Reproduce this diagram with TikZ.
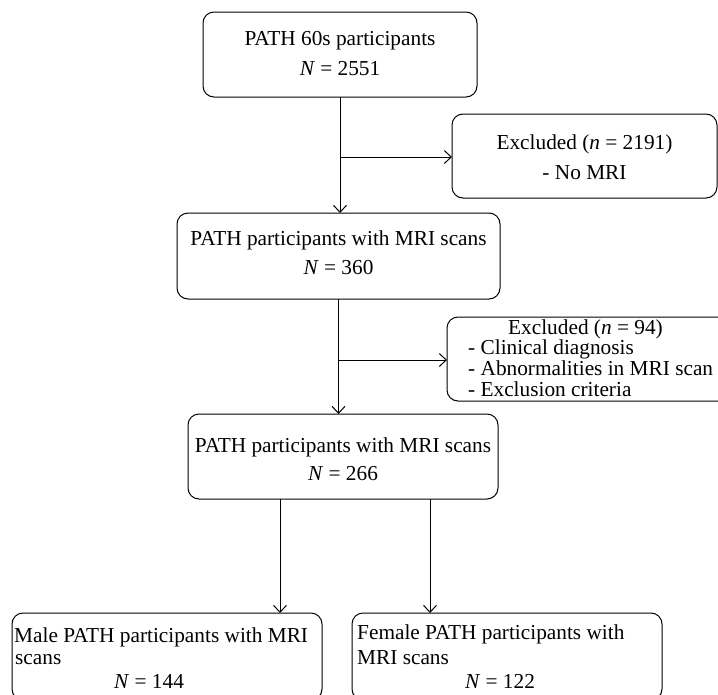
\documentclass[tikz,border=0pt]{standalone}
\usepackage{fontspec}
\setmainfont{Liberation Serif}
\usetikzlibrary{arrows.meta}
\begin{document}
\begin{tikzpicture}[x=1pt,y=-1pt,
  box/.style={draw, line width=1pt, rounded corners=11pt, inner sep=0pt, outer sep=0pt},
  txt/.style={inner sep=0pt, anchor=base, font=\fontsize{21.3}{21}\selectfont},
  txtl/.style={txt, anchor=base west},
  conn/.style={line width=1pt, -{Straight Barb[length=7pt,width=13pt,line width=1pt]}}]
\useasboundingbox (0,0) rectangle (718,694);
\clip (0,0) rectangle (718,694);
% boxes
\node[box, minimum width=274pt, minimum height=85pt] (b1) at (340,54.5) {};
\node[box, minimum width=265pt, minimum height=84pt] (ex1) at (584.5,156) {};
\node[box, minimum width=323pt, minimum height=86pt] (b2) at (338.5,256) {};
\node[box, minimum width=313pt, minimum height=84pt] (ex2) at (603.5,359) {};
\node[box, minimum width=310pt, minimum height=85pt] (b3) at (343,456.5) {};
\node[box, minimum width=310pt, minimum height=87pt] (m) at (167,656.5) {};
\node[box, minimum width=310pt, minimum height=87pt] (f) at (507,656.5) {};
% texts
\node[txt] (t1a) at (340,45) {PATH 60s participants};
\node[txt] (t1b) at (340,75) {\textit{N} = 2551};
\node[txt] (e1a) at (584.5,149) {Excluded (\textit{n} = 2191)};
\node[txt] (e1b) at (584.5,179) {- No MRI};
\node[txt] (t2a) at (338.5,245) {PATH participants with MRI scans};
\node[txt] (t2b) at (338.5,274) {\textit{N} = 360};
\node[txtl] (e2a) at (508,334) {Excluded (\textit{n} = 94)};
\node[txtl] (e2b) at (468,354) {- Clinical diagnosis};
\node[txtl] (e2c) at (468,375) {- Abnormalities in MRI scan};
\node[txtl] (e2d) at (468,396) {- Exclusion criteria};
\node[txt] (t3a) at (343,452) {PATH participants with MRI scans};
\node[txt] (t3b) at (343,480) {\textit{N} = 266};
\node[txtl] (ma) at (14,642) {Male PATH participants with MRI};
\node[txtl] (mb) at (15,664) {scans};
\node[txt] (mc) at (149,688) {\textit{N} = 144};
\node[txtl] (fa) at (357,639) {Female PATH participants with};
\node[txtl] (fb) at (357,664) {MRI scans};
\node[txt] (fc) at (500,688) {\textit{N} = 122};
% connectors
\coordinate (j1) at (340,157);
\coordinate (j2) at (338.5,360);
\coordinate (x1) at (280,0);
\coordinate (x2) at (430,0);
\draw[conn] (b1.south) -- (b1.south |- b2.north);
\draw[conn] (j1) -- (j1 -| ex1.west);
\draw[conn] (b2.south) -- (b2.south |- b3.north);
\draw[conn] (j2) -- (j2 -| ex2.west);
\draw[conn] (b3.south -| x1) -- (m.north -| x1);
\draw[conn] (b3.south -| x2) -- (f.north -| x2);
\end{tikzpicture}
\end{document}
